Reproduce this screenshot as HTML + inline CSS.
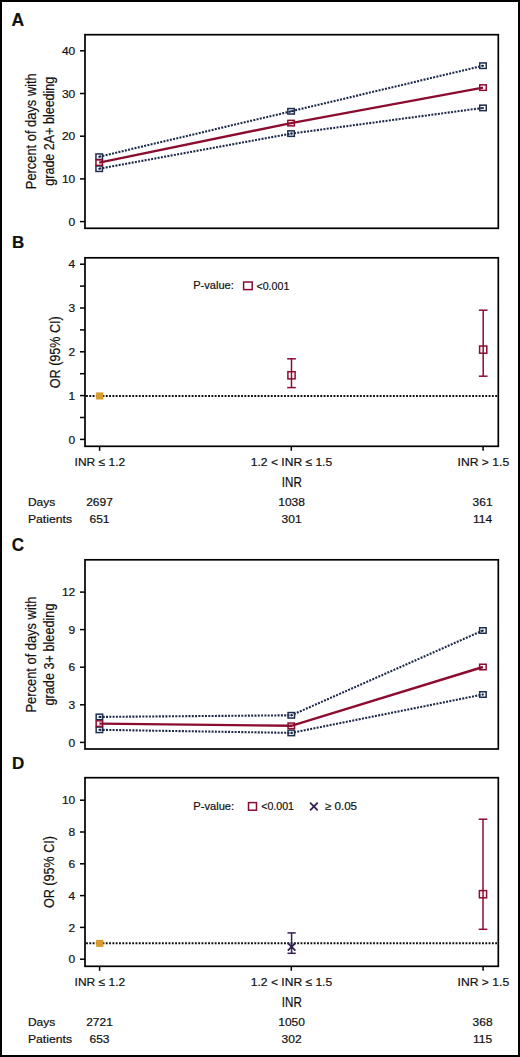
<!DOCTYPE html>
<html><head><meta charset="utf-8"><style>
html,body{margin:0;padding:0;background:#fff;}
body{width:520px;height:1057px;overflow:hidden;}
svg{display:block;font-family:"Liberation Sans", sans-serif;}
text{fill:#111;stroke:#111;stroke-width:0.2px;}
</style></head><body>
<svg width="520" height="1057" viewBox="0 0 520 1057">
<rect x="0" y="0" width="520" height="1057" fill="#fff"/>
<rect x="1" y="1" width="518" height="1055" fill="none" stroke="#000" stroke-width="2"/>
<text x="11.4" y="25.6" font-size="17.5" text-anchor="start" font-weight="bold" >A</text>
<rect x="85" y="34.7" width="413.3" height="193.6" fill="none" stroke="#000" stroke-width="1.7"/>
<line x1="80" y1="221.6" x2="85" y2="221.6" stroke="#000" stroke-width="1.5" />
<text x="75.3" y="225.8" font-size="11.4" text-anchor="end" textLength="6.67" lengthAdjust="spacingAndGlyphs" >0</text>
<line x1="80" y1="178.9" x2="85" y2="178.9" stroke="#000" stroke-width="1.5" />
<text x="75.3" y="183.1" font-size="11.4" text-anchor="end" textLength="13.34" lengthAdjust="spacingAndGlyphs" >10</text>
<line x1="80" y1="136.2" x2="85" y2="136.2" stroke="#000" stroke-width="1.5" />
<text x="75.3" y="140.4" font-size="11.4" text-anchor="end" textLength="13.34" lengthAdjust="spacingAndGlyphs" >20</text>
<line x1="80" y1="93.5" x2="85" y2="93.5" stroke="#000" stroke-width="1.5" />
<text x="75.3" y="97.7" font-size="11.4" text-anchor="end" textLength="13.34" lengthAdjust="spacingAndGlyphs" >30</text>
<line x1="80" y1="50.8" x2="85" y2="50.8" stroke="#000" stroke-width="1.5" />
<text x="75.3" y="55.0" font-size="11.4" text-anchor="end" textLength="13.34" lengthAdjust="spacingAndGlyphs" >40</text>
<text x="0" y="0" font-size="14.5" text-anchor="middle" textLength="116" lengthAdjust="spacingAndGlyphs" transform="translate(36,131.2) rotate(-90)">Percent of days with</text>
<text x="0" y="0" font-size="14.5" text-anchor="middle" textLength="109" lengthAdjust="spacingAndGlyphs" transform="translate(53.6,131.2) rotate(-90)">grade 2A+ bleeding</text>
<polyline points="99.2,156.7 291.1,111.3 483,65.7" fill="none" stroke="#1c2a4a" stroke-width="2.1" stroke-dasharray="2 1.3"/>
<polyline points="99.2,168.7 291.1,133.6 483,107.9" fill="none" stroke="#1c2a4a" stroke-width="2.1" stroke-dasharray="2 1.3"/>
<polyline points="99.2,162.6 291.1,123.1 483,87.6" fill="none" stroke="#8c0c30" stroke-width="2.4"/>
<rect x="95.95" y="153.95" width="6.50" height="5.50" fill="none" stroke="#1f2d4f" stroke-width="1.5"/>
<circle cx="99.2" cy="156.7" r="1" fill="#1c2a4a"/>
<rect x="287.85" y="108.55" width="6.50" height="5.50" fill="none" stroke="#1f2d4f" stroke-width="1.5"/>
<circle cx="291.1" cy="111.3" r="1" fill="#1c2a4a"/>
<rect x="479.75" y="62.95" width="6.50" height="5.50" fill="none" stroke="#1f2d4f" stroke-width="1.5"/>
<circle cx="483" cy="65.7" r="1" fill="#1c2a4a"/>
<rect x="95.95" y="165.95" width="6.50" height="5.50" fill="none" stroke="#1f2d4f" stroke-width="1.5"/>
<circle cx="99.2" cy="168.7" r="1" fill="#1c2a4a"/>
<rect x="287.85" y="130.85" width="6.50" height="5.50" fill="none" stroke="#1f2d4f" stroke-width="1.5"/>
<circle cx="291.1" cy="133.6" r="1" fill="#1c2a4a"/>
<rect x="479.75" y="105.15" width="6.50" height="5.50" fill="none" stroke="#1f2d4f" stroke-width="1.5"/>
<circle cx="483" cy="107.9" r="1" fill="#1c2a4a"/>
<rect x="95.95" y="159.85" width="6.50" height="5.50" fill="none" stroke="#8c0c30" stroke-width="1.5"/>
<rect x="287.85" y="120.35" width="6.50" height="5.50" fill="none" stroke="#8c0c30" stroke-width="1.5"/>
<rect x="479.75" y="84.85" width="6.50" height="5.50" fill="none" stroke="#8c0c30" stroke-width="1.5"/>
<text x="11.9" y="248.1" font-size="17" text-anchor="start" font-weight="bold" >B</text>
<rect x="85" y="257.8" width="413.3" height="188.5" fill="none" stroke="#000" stroke-width="1.7"/>
<line x1="80" y1="439.4" x2="85" y2="439.4" stroke="#000" stroke-width="1.5" />
<text x="75.3" y="443.6" font-size="11.4" text-anchor="end" textLength="6.67" lengthAdjust="spacingAndGlyphs" >0</text>
<line x1="80" y1="395.6" x2="85" y2="395.6" stroke="#000" stroke-width="1.5" />
<text x="75.3" y="399.8" font-size="11.4" text-anchor="end" textLength="6.67" lengthAdjust="spacingAndGlyphs" >1</text>
<line x1="80" y1="351.8" x2="85" y2="351.8" stroke="#000" stroke-width="1.5" />
<text x="75.3" y="356.0" font-size="11.4" text-anchor="end" textLength="6.67" lengthAdjust="spacingAndGlyphs" >2</text>
<line x1="80" y1="308" x2="85" y2="308" stroke="#000" stroke-width="1.5" />
<text x="75.3" y="312.2" font-size="11.4" text-anchor="end" textLength="6.67" lengthAdjust="spacingAndGlyphs" >3</text>
<line x1="80" y1="264.2" x2="85" y2="264.2" stroke="#000" stroke-width="1.5" />
<text x="75.3" y="268.4" font-size="11.4" text-anchor="end" textLength="6.67" lengthAdjust="spacingAndGlyphs" >4</text>
<line x1="80" y1="417.5" x2="85" y2="417.5" stroke="#000" stroke-width="1.5" />
<line x1="80" y1="373.7" x2="85" y2="373.7" stroke="#000" stroke-width="1.5" />
<line x1="80" y1="329.9" x2="85" y2="329.9" stroke="#000" stroke-width="1.5" />
<line x1="80" y1="286.1" x2="85" y2="286.1" stroke="#000" stroke-width="1.5" />
<text x="0" y="0" font-size="14.5" text-anchor="middle" textLength="72" lengthAdjust="spacingAndGlyphs" transform="translate(60,352.2) rotate(-90)">OR (95% CI)</text>
<line x1="86" y1="395.9" x2="497" y2="395.9" stroke="#111" stroke-width="2.0" stroke-dasharray="1.9 1.4"/>
<rect x="96.1" y="392.4" width="7.2" height="7.1" fill="#d99b2b"/>
<line x1="291.5" y1="358.8" x2="291.5" y2="387.6" stroke="#8c0c30" stroke-width="1.5" />
<line x1="287.15" y1="358.8" x2="295.85" y2="358.8" stroke="#8c0c30" stroke-width="1.5" />
<line x1="287.15" y1="387.6" x2="295.85" y2="387.6" stroke="#8c0c30" stroke-width="1.5" />
<rect x="287.90" y="371.70" width="7.20" height="7.20" fill="none" stroke="#8c0c30" stroke-width="1.5"/>
<line x1="483.2" y1="310.2" x2="483.2" y2="376.2" stroke="#8c0c30" stroke-width="1.5" />
<line x1="478.85" y1="310.2" x2="487.55" y2="310.2" stroke="#8c0c30" stroke-width="1.5" />
<line x1="478.85" y1="376.2" x2="487.55" y2="376.2" stroke="#8c0c30" stroke-width="1.5" />
<rect x="479.60" y="346.00" width="7.20" height="7.20" fill="none" stroke="#8c0c30" stroke-width="1.5"/>
<text x="193.2" y="289.3" font-size="11" text-anchor="start" textLength="40.6" lengthAdjust="spacingAndGlyphs" >P-value:</text>
<rect x="243.6" y="282" width="8.6" height="7.6" fill="none" stroke="#8c0c30" stroke-width="1.5"/>
<text x="256.5" y="289.6" font-size="11" text-anchor="start" textLength="32.8" lengthAdjust="spacingAndGlyphs" >&lt;0.001</text>
<line x1="99.6" y1="446.3" x2="99.6" y2="450.8" stroke="#000" stroke-width="1.5" />
<line x1="291.3" y1="446.3" x2="291.3" y2="450.8" stroke="#000" stroke-width="1.5" />
<line x1="483.1" y1="446.3" x2="483.1" y2="450.8" stroke="#000" stroke-width="1.5" />
<text x="74.6" y="465.9" font-size="11.4" text-anchor="start" textLength="50.6" lengthAdjust="spacingAndGlyphs" >INR ≤ 1.2</text>
<text x="250.8" y="465.9" font-size="11.4" text-anchor="start" textLength="81.4" lengthAdjust="spacingAndGlyphs" >1.2 &lt; INR ≤ 1.5</text>
<text x="457.6" y="465.9" font-size="11.4" text-anchor="start" textLength="51.6" lengthAdjust="spacingAndGlyphs" >INR &gt; 1.5</text>
<text x="291.8" y="487.2" font-size="14.5" text-anchor="middle" textLength="20" lengthAdjust="spacingAndGlyphs" >INR</text>
<text x="27.9" y="505.8" font-size="11.4" text-anchor="start" textLength="27.34" lengthAdjust="spacingAndGlyphs" >Days</text>
<text x="27.9" y="523.1" font-size="11.4" text-anchor="start" textLength="44.2" lengthAdjust="spacingAndGlyphs" >Patients</text>
<text x="99.5" y="505.8" font-size="11.4" text-anchor="middle" textLength="26.69" lengthAdjust="spacingAndGlyphs" >2697</text>
<text x="99.5" y="523.1" font-size="11.4" text-anchor="middle" textLength="20.02" lengthAdjust="spacingAndGlyphs" >651</text>
<text x="291.6" y="505.8" font-size="11.4" text-anchor="middle" textLength="26.69" lengthAdjust="spacingAndGlyphs" >1038</text>
<text x="291.6" y="523.1" font-size="11.4" text-anchor="middle" textLength="20.02" lengthAdjust="spacingAndGlyphs" >301</text>
<text x="482.6" y="505.8" font-size="11.4" text-anchor="middle" textLength="20.02" lengthAdjust="spacingAndGlyphs" >361</text>
<text x="482.6" y="523.1" font-size="11.4" text-anchor="middle" textLength="19.12" lengthAdjust="spacingAndGlyphs" >114</text>
<text x="11.8" y="0" font-size="17" text-anchor="start" font-weight="bold" transform="translate(0,551.1) scale(1,1.09)">C</text>
<rect x="85" y="559.8" width="413.3" height="189.2" fill="none" stroke="#000" stroke-width="1.7"/>
<line x1="80" y1="742.4" x2="85" y2="742.4" stroke="#000" stroke-width="1.5" />
<text x="75.3" y="746.6" font-size="11.4" text-anchor="end" textLength="6.67" lengthAdjust="spacingAndGlyphs" >0</text>
<line x1="80" y1="704.8" x2="85" y2="704.8" stroke="#000" stroke-width="1.5" />
<text x="75.3" y="709.0" font-size="11.4" text-anchor="end" textLength="6.67" lengthAdjust="spacingAndGlyphs" >3</text>
<line x1="80" y1="667.2" x2="85" y2="667.2" stroke="#000" stroke-width="1.5" />
<text x="75.3" y="671.4" font-size="11.4" text-anchor="end" textLength="6.67" lengthAdjust="spacingAndGlyphs" >6</text>
<line x1="80" y1="629.6" x2="85" y2="629.6" stroke="#000" stroke-width="1.5" />
<text x="75.3" y="633.8" font-size="11.4" text-anchor="end" textLength="6.67" lengthAdjust="spacingAndGlyphs" >9</text>
<line x1="80" y1="592.1" x2="85" y2="592.1" stroke="#000" stroke-width="1.5" />
<text x="75.3" y="596.3" font-size="11.4" text-anchor="end" textLength="13.34" lengthAdjust="spacingAndGlyphs" >12</text>
<text x="0" y="0" font-size="14.5" text-anchor="middle" textLength="116" lengthAdjust="spacingAndGlyphs" transform="translate(36,654.5) rotate(-90)">Percent of days with</text>
<text x="0" y="0" font-size="14.5" text-anchor="middle" textLength="102" lengthAdjust="spacingAndGlyphs" transform="translate(53.6,654.5) rotate(-90)">grade 3+ bleeding</text>
<polyline points="99.4,716.9 291.3,715.3 482.9,630.5" fill="none" stroke="#1c2a4a" stroke-width="2.1" stroke-dasharray="2 1.3"/>
<polyline points="99.4,729.8 291.3,732.9 482.9,694.5" fill="none" stroke="#1c2a4a" stroke-width="2.1" stroke-dasharray="2 1.3"/>
<polyline points="99.4,723.6 291.3,725.8 482.9,667" fill="none" stroke="#8c0c30" stroke-width="2.4"/>
<rect x="96.15" y="714.15" width="6.50" height="5.50" fill="none" stroke="#1f2d4f" stroke-width="1.5"/>
<circle cx="99.4" cy="716.9" r="1" fill="#1c2a4a"/>
<rect x="288.05" y="712.55" width="6.50" height="5.50" fill="none" stroke="#1f2d4f" stroke-width="1.5"/>
<circle cx="291.3" cy="715.3" r="1" fill="#1c2a4a"/>
<rect x="479.65" y="627.75" width="6.50" height="5.50" fill="none" stroke="#1f2d4f" stroke-width="1.5"/>
<circle cx="482.9" cy="630.5" r="1" fill="#1c2a4a"/>
<rect x="96.15" y="727.05" width="6.50" height="5.50" fill="none" stroke="#1f2d4f" stroke-width="1.5"/>
<circle cx="99.4" cy="729.8" r="1" fill="#1c2a4a"/>
<rect x="288.05" y="730.15" width="6.50" height="5.50" fill="none" stroke="#1f2d4f" stroke-width="1.5"/>
<circle cx="291.3" cy="732.9" r="1" fill="#1c2a4a"/>
<rect x="479.65" y="691.75" width="6.50" height="5.50" fill="none" stroke="#1f2d4f" stroke-width="1.5"/>
<circle cx="482.9" cy="694.5" r="1" fill="#1c2a4a"/>
<rect x="96.15" y="720.85" width="6.50" height="5.50" fill="none" stroke="#8c0c30" stroke-width="1.5"/>
<rect x="288.05" y="723.05" width="6.50" height="5.50" fill="none" stroke="#8c0c30" stroke-width="1.5"/>
<rect x="479.65" y="664.25" width="6.50" height="5.50" fill="none" stroke="#8c0c30" stroke-width="1.5"/>
<text x="11.9" y="768.8" font-size="17" text-anchor="start" font-weight="bold" >D</text>
<rect x="85" y="777.7" width="413.3" height="188.6" fill="none" stroke="#000" stroke-width="1.7"/>
<line x1="80" y1="959.2" x2="85" y2="959.2" stroke="#000" stroke-width="1.5" />
<text x="75.3" y="963.4" font-size="11.4" text-anchor="end" textLength="6.67" lengthAdjust="spacingAndGlyphs" >0</text>
<line x1="80" y1="927.4" x2="85" y2="927.4" stroke="#000" stroke-width="1.5" />
<text x="75.3" y="931.6" font-size="11.4" text-anchor="end" textLength="6.67" lengthAdjust="spacingAndGlyphs" >2</text>
<line x1="80" y1="895.6" x2="85" y2="895.6" stroke="#000" stroke-width="1.5" />
<text x="75.3" y="899.8" font-size="11.4" text-anchor="end" textLength="6.67" lengthAdjust="spacingAndGlyphs" >4</text>
<line x1="80" y1="863.8" x2="85" y2="863.8" stroke="#000" stroke-width="1.5" />
<text x="75.3" y="868.0" font-size="11.4" text-anchor="end" textLength="6.67" lengthAdjust="spacingAndGlyphs" >6</text>
<line x1="80" y1="832" x2="85" y2="832" stroke="#000" stroke-width="1.5" />
<text x="75.3" y="836.2" font-size="11.4" text-anchor="end" textLength="6.67" lengthAdjust="spacingAndGlyphs" >8</text>
<line x1="80" y1="800.2" x2="85" y2="800.2" stroke="#000" stroke-width="1.5" />
<text x="75.3" y="804.4" font-size="11.4" text-anchor="end" textLength="13.34" lengthAdjust="spacingAndGlyphs" >10</text>
<text x="0" y="0" font-size="14.5" text-anchor="middle" textLength="72" lengthAdjust="spacingAndGlyphs" transform="translate(53.9,872) rotate(-90)">OR (95% CI)</text>
<line x1="86" y1="943.3" x2="497" y2="943.3" stroke="#111" stroke-width="2.0" stroke-dasharray="1.9 1.4"/>
<rect x="96.1" y="939.9" width="7.3" height="7" fill="#d99b2b"/>
<line x1="291.6" y1="932.9" x2="291.6" y2="953.3" stroke="#34214f" stroke-width="1.5" />
<line x1="287.45" y1="932.9" x2="295.75" y2="932.9" stroke="#34214f" stroke-width="1.5" />
<line x1="287.45" y1="953.3" x2="295.75" y2="953.3" stroke="#34214f" stroke-width="1.5" />
<line x1="287.8" y1="943.0" x2="295.4" y2="950.6" stroke="#34214f" stroke-width="1.8" />
<line x1="287.8" y1="950.6" x2="295.4" y2="943.0" stroke="#34214f" stroke-width="1.8" />
<line x1="483" y1="819.2" x2="483" y2="929.3" stroke="#8c0c30" stroke-width="1.5" />
<line x1="478.65" y1="819.2" x2="487.35" y2="819.2" stroke="#8c0c30" stroke-width="1.5" />
<line x1="478.65" y1="929.3" x2="487.35" y2="929.3" stroke="#8c0c30" stroke-width="1.5" />
<rect x="479.40" y="890.60" width="7.20" height="7.20" fill="none" stroke="#8c0c30" stroke-width="1.5"/>
<text x="193.3" y="810.2" font-size="11" text-anchor="start" textLength="40.8" lengthAdjust="spacingAndGlyphs" >P-value:</text>
<rect x="248.5" y="802.6" width="8" height="7.6" fill="none" stroke="#8c0c30" stroke-width="1.5"/>
<text x="261.2" y="810.2" font-size="11" text-anchor="start" textLength="32.8" lengthAdjust="spacingAndGlyphs" >&lt;0.001</text>
<line x1="310.1" y1="802.7" x2="317.7" y2="810.3" stroke="#34214f" stroke-width="1.8" />
<line x1="310.1" y1="810.3" x2="317.7" y2="802.7" stroke="#34214f" stroke-width="1.8" />
<text x="324.8" y="810.2" font-size="11" text-anchor="start" textLength="32.3" lengthAdjust="spacingAndGlyphs" >≥ 0.05</text>
<line x1="99.6" y1="966.3" x2="99.6" y2="970.8" stroke="#000" stroke-width="1.5" />
<line x1="291.3" y1="966.3" x2="291.3" y2="970.8" stroke="#000" stroke-width="1.5" />
<line x1="483.1" y1="966.3" x2="483.1" y2="970.8" stroke="#000" stroke-width="1.5" />
<text x="74.6" y="985.8" font-size="11.4" text-anchor="start" textLength="50.6" lengthAdjust="spacingAndGlyphs" >INR ≤ 1.2</text>
<text x="250.8" y="985.8" font-size="11.4" text-anchor="start" textLength="81.4" lengthAdjust="spacingAndGlyphs" >1.2 &lt; INR ≤ 1.5</text>
<text x="457.6" y="985.8" font-size="11.4" text-anchor="start" textLength="51.6" lengthAdjust="spacingAndGlyphs" >INR &gt; 1.5</text>
<text x="291.8" y="1007.1" font-size="14.5" text-anchor="middle" textLength="20" lengthAdjust="spacingAndGlyphs" >INR</text>
<text x="27.9" y="1025.6" font-size="11.4" text-anchor="start" textLength="27.34" lengthAdjust="spacingAndGlyphs" >Days</text>
<text x="27.9" y="1042.9" font-size="11.4" text-anchor="start" textLength="44.2" lengthAdjust="spacingAndGlyphs" >Patients</text>
<text x="99.5" y="1025.6" font-size="11.4" text-anchor="middle" textLength="26.69" lengthAdjust="spacingAndGlyphs" >2721</text>
<text x="99.5" y="1042.9" font-size="11.4" text-anchor="middle" textLength="20.02" lengthAdjust="spacingAndGlyphs" >653</text>
<text x="291.6" y="1025.6" font-size="11.4" text-anchor="middle" textLength="26.69" lengthAdjust="spacingAndGlyphs" >1050</text>
<text x="291.6" y="1042.9" font-size="11.4" text-anchor="middle" textLength="20.02" lengthAdjust="spacingAndGlyphs" >302</text>
<text x="482.6" y="1025.6" font-size="11.4" text-anchor="middle" textLength="20.02" lengthAdjust="spacingAndGlyphs" >368</text>
<text x="482.6" y="1042.9" font-size="11.4" text-anchor="middle" textLength="19.12" lengthAdjust="spacingAndGlyphs" >115</text>
</svg>
</body></html>
